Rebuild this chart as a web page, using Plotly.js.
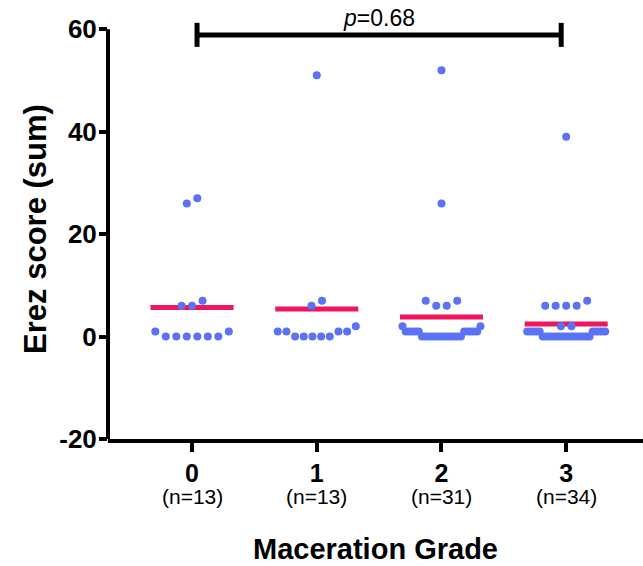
<!DOCTYPE html>
<html><head><meta charset="utf-8">
<script src="https://cdn.plot.ly/plotly-3.0.1.min.js"></script>
<style>html,body{margin:0;padding:0;background:#fff;} #chart{width:643px;height:566px;}</style>
</head><body><div id="chart"></div>
<script>
// ---- data ----
const grades = [0, 1, 2, 3];
const gradeLabels = ['0', '1', '2', '3'];
const nLabels = ['(n=13)', '(n=13)', '(n=31)', '(n=34)'];
const grade0 = [27, 26, 7, 6, 6, 1, 1, 0, 0, 0, 0, 0, 0];
const grade1 = [51, 7, 6, 2, 1, 1, 1, 1, 0, 0, 0, 0, 0];
const grade2 = [52, 26, 7, 7, 6, 6, 2, 2, 1, 1, 1, 1, 1, 1, 1, 1, 1, 1,
                0, 0, 0, 0, 0, 0, 0, 0, 0, 0, 0, 0, 0];
const grade3 = [39, 7, 6, 6, 6, 6, 2, 2, 1, 1, 1, 1, 1, 1, 1, 1, 1, 1,
                0, 0, 0, 0, 0, 0, 0, 0, 0, 0, 0, 0, 0, 0, 0, 0];
const compareGroups = [0, 3];
const pLabel = '<i>p</i>=0.68';
const yTicks = [-20, 0, 20, 40, 60];
const yTickLabels = ['-20', '0', '20', '40', '60'];

// ---- layout geometry ----
const W = 643, H = 566, M = {l: 108, r: 0, t: 19, b: 127};
const xRange = [-0.674, 3.616], yRange = [-20, 62];
const pxX = (W - M.l - M.r) / (xRange[1] - xRange[0]);
const pxY = (H - M.t - M.b) / (yRange[1] - yRange[0]);
const DOT = 8, ROWTOL = 11, GAP = 10.5, MAXW = 78, MAXN = 26;
const BLUE = '#5A72F6', RED = '#EC175C';
const FONT = 'Liberation Sans, Arial, Helvetica, sans-serif';

function swarm(values, center) {
  const sorted = values.slice().sort((a, b) => a - b);
  const rows = []; let cur = null;
  sorted.forEach(v => {
    if (!cur || (v - cur[0]) * pxY > ROWTOL || cur.length >= MAXN) { cur = [v]; rows.push(cur); }
    else cur.push(v);
  });
  const xs = [], ys = [];
  rows.forEach(row => {
    const n = row.length;
    const step = n > 1 ? Math.min(GAP, MAXW / (n - 1)) : 0;
    const slots = [];
    for (let i = 0; i < n; i++) slots.push(i - (n - 1) / 2);
    slots.sort((a, b) => Math.abs(a) - Math.abs(b) || a - b);
    row.forEach((v, i) => { xs.push(center + slots[i] * step / pxX); ys.push(v); });
  });
  return {xs, ys};
}

const groups = [grade0, grade1, grade2, grade3];
const traces = [];
const halfMean = 0.333;
groups.forEach((g, i) => {
  const m = g.reduce((a, b) => a + b, 0) / g.length;
  traces.push({type: 'scatter', mode: 'lines', x: [grades[i] - halfMean, grades[i] + halfMean],
    y: [m, m], line: {color: RED, width: 5}, hoverinfo: 'skip', showlegend: false});
});
groups.forEach((g, i) => {
  const s = swarm(g, grades[i]);
  traces.push({type: 'scatter', mode: 'markers', x: s.xs, y: s.ys,
    marker: {color: BLUE, size: DOT, line: {width: 0}}, showlegend: false, cliponaxis: false});
});

const barY = 58.9, capH = 2.35, inset = 0.04;
const bx0 = grades[compareGroups[0]] + inset, bx1 = grades[compareGroups[1]] - inset;
const shapes = [
  {type: 'line', xref: 'paper', yref: 'y', x0: 0, x1: 0, y0: yRange[0], y1: yTicks[yTicks.length - 1],
   line: {color: 'black', width: 4}},
  {type: 'line', xref: 'x', yref: 'y', x0: bx0, x1: bx1, y0: barY, y1: barY, line: {color: 'black', width: 5}},
  {type: 'line', xref: 'x', yref: 'y', x0: bx0, x1: bx0, y0: barY - capH, y1: barY + capH, line: {color: 'black', width: 5}},
  {type: 'line', xref: 'x', yref: 'y', x0: bx1, x1: bx1, y0: barY - capH, y1: barY + capH, line: {color: 'black', width: 5}}
];

const annotations = nLabels.map((t, i) => ({
  x: grades[i], xref: 'x', y: -0.138, yref: 'paper', text: t, showarrow: false,
  yanchor: 'middle', font: {family: FONT, size: 21, color: 'black'}
}));
annotations.push({x: (bx0 + bx1) / 2, xref: 'x', y: 1, yref: 'paper', yshift: 1, text: pLabel, showarrow: false,
  yanchor: 'middle', font: {family: FONT, size: 23, color: 'black'}});

const layout = {
  width: W, height: H, margin: M, paper_bgcolor: 'white', plot_bgcolor: 'white',
  font: {family: FONT, color: 'black'},
  showlegend: false,
  xaxis: {range: xRange, tickvals: grades, ticktext: gradeLabels, ticks: 'outside', ticklen: 9, tickwidth: 4,
    tickcolor: 'black', showline: true, linewidth: 4, linecolor: 'black', showgrid: false, zeroline: false,
    tickfont: {family: FONT, size: 25, weight: 'bold', color: 'black'},
    title: {text: 'Maceration Grade', font: {family: FONT, size: 29, weight: 'bold', color: 'black'}, standoff: 54},
    fixedrange: true},
  yaxis: {range: yRange, tickvals: yTicks, ticktext: yTickLabels, ticks: 'outside', ticklen: 8, tickwidth: 4, tickcolor: 'black',
    showline: false, showgrid: false, zeroline: false, ticklabelstandoff: -3,
    tickfont: {family: FONT, size: 26, weight: 'bold', color: 'black'},
    title: {text: 'Erez score (sum)', font: {family: FONT, size: 31, weight: 'bold', color: 'black'}, standoff: 3},
    fixedrange: true},
  shapes: shapes, annotations: annotations
};
Plotly.newPlot('chart', traces, layout, {displayModeBar: false, staticPlot: true});
</script>
</body></html>
